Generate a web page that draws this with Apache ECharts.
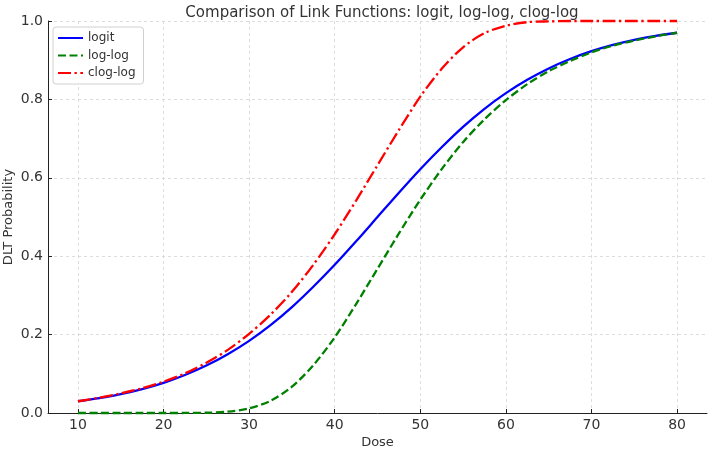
<!DOCTYPE html>
<html>
<head>
<meta charset="utf-8">
<script src="https://cdn.jsdelivr.net/npm/echarts@6/dist/echarts.min.js"></script>
<style>
html,body{margin:0;padding:0;background:#fff;}
#chart{width:709px;height:449px;}
</style>
</head>
<body>
<div id="chart"></div>
<script>
const doses = [10,12.5,15,17.5,20,22.5,25,27.5,30,32.5,35,37.5,40,42.5,45,47.5,50,52.5,55,57.5,60,62.5,65,67.5,70,72.5,75,77.5,80];
const logitValues = [0.030,0.038,0.048,0.061,0.077,0.097,0.121,0.150,0.184,0.224,0.270,0.322,0.378,0.438,0.500,0.562,0.622,0.678,0.730,0.776,0.816,0.850,0.879,0.903,0.923,0.939,0.952,0.962,0.970];
const loglogValues = [0.000,0.000,0.000,0.000,0.000,0.0001,0.0007,0.0034,0.012,0.031,0.067,0.122,0.193,0.278,0.368,0.458,0.544,0.622,0.691,0.749,0.798,0.839,0.872,0.898,0.920,0.937,0.950,0.961,0.970];
const cloglogValues = [0.030,0.039,0.050,0.063,0.080,0.101,0.128,0.161,0.202,0.251,0.309,0.378,0.456,0.542,0.632,0.722,0.807,0.878,0.933,0.969,0.988,0.997,0.999,1.000,1.000,1.000,1.000,1.000,1.000];
const seriesNames = ['logit','log-log','clog-log'];
const xTicks = [10,20,30,40,50,60,70,80];
const yTicks = [0,0.2,0.4,0.6,0.8,1.0];

const font = 'DejaVu Sans';
const textColor = '#333';
const pairs = (vals) => doses.map((d,i)=>[d, vals[i]]);

const chart = echarts.init(document.getElementById('chart'));
chart.setOption({
  animation: false,
  backgroundColor: '#fff',
  title: {
    text: 'Comparison of Link Functions: logit, log-log, clog-log',
    left: 377, top: 1, textAlign: 'center',
    textStyle: {fontFamily: font, fontSize: 15, fontWeight: 'normal', color: textColor}
  },
  legend: {
    data: seriesNames,
    orient: 'vertical',
    left: 53, top: 27,
    itemWidth: 25, itemHeight: 12, itemGap: 5.5,
    padding: [5, 8, 5, 4],
    backgroundColor: 'rgba(255,255,255,0.85)',
    borderColor: '#d0d0d0', borderWidth: 1, borderRadius: 3,
    itemStyle: {opacity: 0},
    textStyle: {fontFamily: font, fontSize: 12, color: textColor}
  },
  grid: {left: 48, right: 2, top: 21, bottom: 36, containLabel: false, outerBoundsMode: 'none'},
  xAxis: {
    type: 'value', min: 6.5, max: 83.5,
    name: 'Dose', nameLocation: 'middle', nameGap: 23, nameMoveOverlap: false,
    nameTextStyle: {fontFamily: font, fontSize: 13, color: textColor},
    axisLine: {show: true, lineStyle: {color: '#222', width: 1}},
    axisTick: {show: true, inside: true, length: 4, customValues: xTicks, lineStyle: {color: '#222'}},
    axisLabel: {customValues: xTicks, margin: 5, fontFamily: font, fontSize: 14, color: textColor},
    splitLine: {show: true, lineStyle: {color: '#d5d5d5', type: [3,3], width: 0.8}}
  },
  yAxis: {
    type: 'value', min: 0, max: 1, interval: 0.2,
    name: 'DLT Probability', nameLocation: 'middle', nameGap: 33, nameMoveOverlap: false,
    nameTextStyle: {fontFamily: font, fontSize: 13, color: textColor},
    axisLine: {show: true, lineStyle: {color: '#222', width: 1}},
    axisTick: {show: true, inside: true, length: 4, lineStyle: {color: '#222'}},
    axisLabel: {margin: 5, fontFamily: font, fontSize: 14, color: textColor, formatter: v => v.toFixed(1)},
    splitLine: {show: true, lineStyle: {color: '#d5d5d5', type: [3,3], width: 0.8}}
  },
  series: [
    {name: seriesNames[0], type: 'line', data: pairs(logitValues), showSymbol: false, symbol: 'none',
     smooth: 0.3, clip: false, color: '#0000ff', lineStyle: {color: '#0000ff', width: 2.3, type: 'solid'}},
    {name: seriesNames[1], type: 'line', data: pairs(loglogValues), showSymbol: false, symbol: 'none',
     smooth: 0.3, clip: false, color: '#008000', lineStyle: {color: '#008000', width: 2.3, type: [8,3.5]}},
    {name: seriesNames[2], type: 'line', data: pairs(cloglogValues), showSymbol: false, symbol: 'none',
     smooth: 0.3, clip: false, color: '#ff0000', lineStyle: {color: '#ff0000', width: 2.3, type: [13,3.5,2.3,3.5]}}
  ]
});
</script>
</body>
</html>
